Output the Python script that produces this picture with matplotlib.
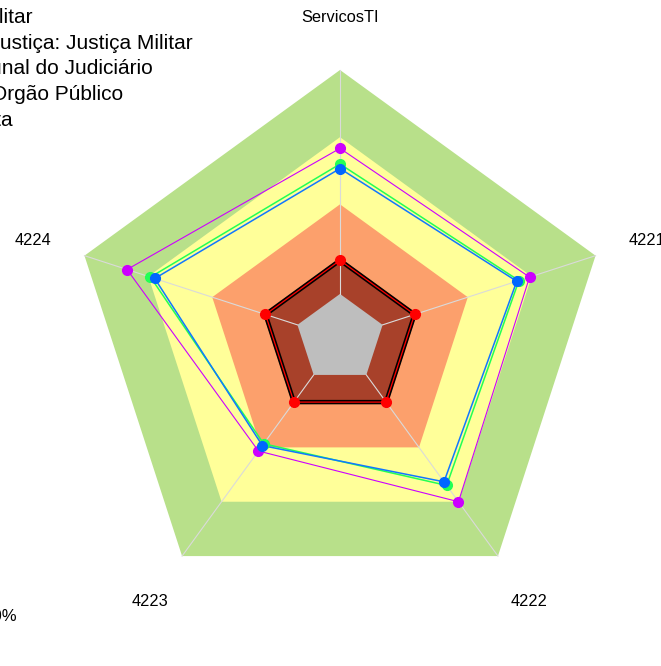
import numpy as np
import matplotlib.pyplot as plt

plt.rcParams['font.family'] = ['Liberation Sans', 'DejaVu Sans']

# eixos do radar (sentido horário a partir do topo)
eixos = ['ServicosTI', '4221', '4222', '4223', '4224']

# faixas de capacidade (limite superior, fração 0-1)
faixas = [1.00, 0.70, 0.40, 0.16, 0.0]
cores_faixas = ['#B8E08A', '#FFFF99', '#FCA06C', '#A8412A', '#BEBEBE']

# séries
orgao = [0.65, 0.69, 0.70, 0.42, 0.80]
segmento = [0.58, 0.64, 0.61, 0.38, 0.69]
tribunal = [0.56, 0.63, 0.59, 0.39, 0.67]
referencia = [0.15, 0.15, 0.15, 0.15, 0.15]
meta = [0.15, 0.15, 0.15, 0.15, 0.15]

legenda = ['Superior Tribunal Militar',
           'Segmento de Justiça: Justiça Militar',
           'Tribunal do Judiciário',
           'Orgão Público',
           'Meta']

SEG = 5
theta = np.deg2rad(90 - 72 * np.arange(len(eixos)))


def xy(vals):
    # escala do fmsb: centro vazio de 1/(seg+1)
    r = (1 + SEG * np.asarray(vals, dtype=float)) / (SEG + 1)
    x = r * np.cos(theta)
    y = r * np.sin(theta)
    return np.append(x, x[0]), np.append(y, y[0])


fig = plt.figure(figsize=(6.61, 6.66), dpi=100)
ax = fig.add_axes([0, 0, 1, 1])
ax.set_xlim(-1.2654, 1.1946)
ax.set_ylim(-1.2181, 1.2605)
ax.set_aspect('equal')
ax.axis('off')

# faixas de fundo
for lim, cor in zip(faixas, cores_faixas):
    x, y = xy([lim] * len(eixos))
    ax.fill(x, y, color=cor, lw=0, zorder=1)

# raios
r0 = 1 / (SEG + 1)
for t in theta:
    ax.plot([r0 * np.cos(t), np.cos(t)], [r0 * np.sin(t), np.sin(t)],
            color='#DADADA', lw=0.8, zorder=2)

# rótulos dos eixos
for t, lab in zip(theta, eixos):
    ax.text(1.2 * np.cos(t), 1.2 * np.sin(t), lab, ha='center',
            va='center_baseline', fontsize=11.8, color='black')

# séries
x, y = xy(orgao)
ax.plot(x, y, color='#CC00FF', lw=0.8, zorder=3)
ax.plot(x[:-1], y[:-1], 'o', color='#CC00FF', ms=7, zorder=6)
x, y = xy(segmento)
ax.plot(x, y, color='#22FF55', lw=1.1, zorder=3)
ax.plot(x[:-1], y[:-1], 'o', color='#22FF55', ms=7, zorder=6)
x, y = xy(tribunal)
ax.plot(x, y, color='#1177FF', lw=1.1, zorder=3)
ax.plot(x[:-1], y[:-1], 'o', color='#0066FF', ms=7, zorder=6)
x, y = xy(referencia)
ax.plot(x, y, color='black', lw=3.2, zorder=4)
x, y = xy(meta)
ax.plot(x, y, color='red', lw=0.9, zorder=5)
ax.plot(x[:-1], y[:-1], 'o', color='red', ms=7, zorder=6)

# legenda (cortada à esquerda, como no original)
fins = [33, 193, 153, 123, 13]
bases = [23.3, 49, 74.5, 100, 125.5]
for txt, xe, yb in zip(legenda, fins, bases):
    fig.text(xe / 661, 1 - yb / 666, txt, ha='right', va='baseline',
             fontsize=15)

fig.text(17 / 661, 1 - 621 / 666, '100%', ha='right', va='baseline',
         fontsize=12)

fig.savefig('out.png', dpi=100)
